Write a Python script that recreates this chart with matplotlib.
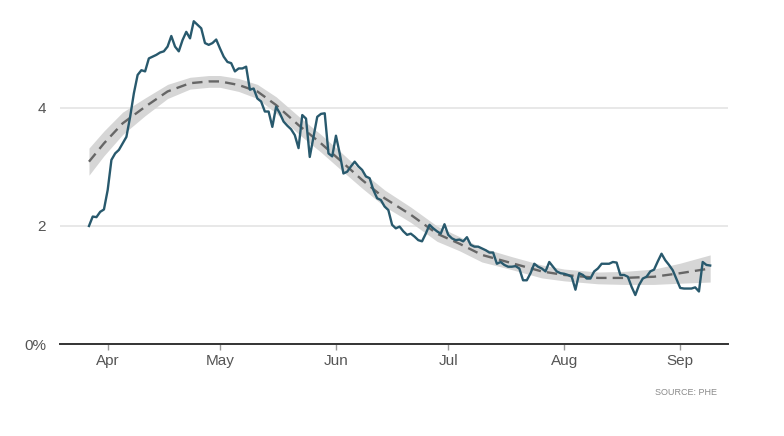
import pandas as pd
import matplotlib
matplotlib.use("Agg")
import matplotlib.pyplot as plt
import matplotlib.dates as mdates

plt.rcParams['font.family'] = ['Liberation Sans Narrow', 'Liberation Sans', 'DejaVu Sans']

# daily positivity rate (%), 27 Mar - 9 Sep
start_date = "2020-03-27"
rate = [
    2.00, 2.16, 2.15, 2.24, 2.28, 2.61, 3.12, 3.23, 3.29, 3.40,
    3.51, 3.85, 4.25, 4.56, 4.64, 4.62, 4.84, 4.87, 4.90, 4.94,
    4.96, 5.04, 5.22, 5.04, 4.96, 5.15, 5.29, 5.18, 5.47, 5.41,
    5.35, 5.10, 5.07, 5.10, 5.16, 5.01, 4.87, 4.78, 4.76, 4.62,
    4.67, 4.67, 4.70, 4.31, 4.33, 4.16, 4.11, 3.94, 3.94, 3.68,
    4.02, 3.91, 3.77, 3.70, 3.64, 3.54, 3.32, 3.88, 3.82, 3.17,
    3.51, 3.85, 3.90, 3.91, 3.23, 3.18, 3.53, 3.23, 2.89, 2.92,
    3.01, 3.09, 3.01, 2.95, 2.84, 2.81, 2.61, 2.47, 2.44, 2.33,
    2.27, 2.02, 1.96, 1.99, 1.91, 1.85, 1.87, 1.82, 1.76, 1.74,
    1.87, 2.02, 1.96, 1.91, 1.87, 2.03, 1.85, 1.79, 1.76, 1.77,
    1.74, 1.81, 1.68, 1.65, 1.65, 1.62, 1.59, 1.55, 1.55, 1.36,
    1.39, 1.34, 1.31, 1.31, 1.32, 1.28, 1.08, 1.08, 1.20, 1.36,
    1.31, 1.28, 1.23, 1.39, 1.31, 1.23, 1.20, 1.19, 1.17, 1.14,
    0.92, 1.20, 1.17, 1.11, 1.11, 1.23, 1.28, 1.36, 1.36, 1.36,
    1.39, 1.38, 1.17, 1.17, 1.14, 0.97, 0.83, 1.00, 1.11, 1.14,
    1.23, 1.26, 1.40, 1.53, 1.42, 1.34, 1.25, 1.10, 0.95, 0.94,
    0.94, 0.94, 0.96, 0.89, 1.39, 1.34, 1.33,
]

# smoothed trend, with its band half-width
trend_dates = [
    "2020-03-27", "2020-03-31", "2020-04-05", "2020-04-11", "2020-04-17",
    "2020-04-23", "2020-04-28", "2020-05-01", "2020-05-06", "2020-05-11",
    "2020-05-16", "2020-05-22", "2020-05-28", "2020-06-02", "2020-06-08",
    "2020-06-14", "2020-06-21", "2020-06-28", "2020-07-04", "2020-07-10",
    "2020-07-18", "2020-07-26", "2020-08-01", "2020-08-10", "2020-08-17",
    "2020-08-25", "2020-09-01", "2020-09-09",
]
trend = [
    3.09, 3.40, 3.74, 4.02, 4.28, 4.42, 4.45, 4.45, 4.39, 4.28,
    4.05, 3.71, 3.40, 3.12, 2.78, 2.47, 2.19, 1.87, 1.70, 1.51,
    1.37, 1.23, 1.17, 1.12, 1.12, 1.14, 1.20, 1.28,
]
band = [
    0.23, 0.21, 0.19, 0.15, 0.12, 0.10, 0.10, 0.10, 0.11, 0.12,
    0.14, 0.15, 0.15, 0.15, 0.14, 0.14, 0.13, 0.13, 0.12, 0.12,
    0.11, 0.11, 0.10, 0.10, 0.11, 0.13, 0.17, 0.23,
]

y_ticks = [0, 2, 4]
y_labels = ["0%", "2", "4"]

dates = pd.date_range(start_date, periods=len(rate), freq="D")
tdates = pd.to_datetime(trend_dates)
lo = [t - b for t, b in zip(trend, band)]
hi = [t + b for t, b in zip(trend, band)]

fig = plt.figure(figsize=(7.84, 4.36), dpi=100)
ax = fig.add_axes([0.0765, 0.211, 0.852, 0.766])

# band, dashed trend, then the daily line on top
ax.fill_between(tdates, lo, hi, color="#d6d6d6", lw=0, zorder=1)
ax.plot(tdates, trend, color="#666666", lw=1.7, dashes=(4.4, 2.6), zorder=2)
ax.plot(dates, rate, color="#28596d", lw=1.7, zorder=3)

ax.set_xlim(pd.Timestamp("2020-03-19 06:00"), pd.Timestamp("2020-09-13 18:00"))
ax.set_ylim(0, 5.66)

ax.set_yticks(y_ticks)
ax.set_yticklabels(y_labels)
ax.yaxis.grid(True, color="#e6e6e6", lw=1.3)
ax.set_axisbelow(True)

ax.xaxis.set_major_locator(mdates.MonthLocator())
ax.xaxis.set_major_formatter(mdates.DateFormatter("%b"))

for s in ["top", "right", "left"]:
    ax.spines[s].set_visible(False)
ax.spines["bottom"].set_color("#333333")
ax.spines["bottom"].set_linewidth(1.4)
ax.spines["bottom"].set_zorder(4)

ax.tick_params(axis="y", length=0, pad=10, labelsize=11, labelcolor="#555555")
ax.tick_params(axis="x", length=4, width=1, color="#999999", pad=3,
               labelsize=11, labelcolor="#555555")

fig.text(0.915, 0.099, "SOURCE: PHE", ha="right", va="center",
         fontsize=6.5, color="#8a8a8a")

fig.savefig("out.png", dpi=100)
